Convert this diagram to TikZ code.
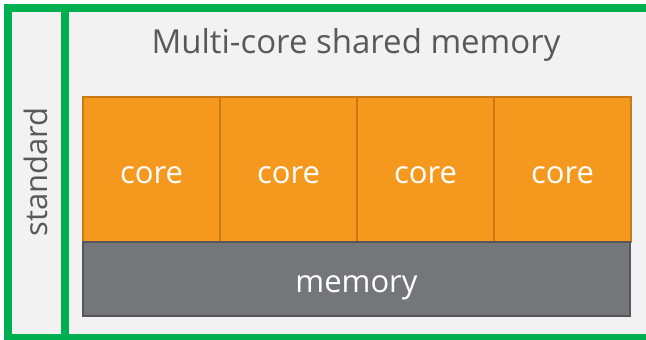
\documentclass[tikz,border=0pt]{standalone}
\usepackage{fontspec}
\setmainfont{Open Sans}
\usetikzlibrary{positioning}

\definecolor{framegreen}{HTML}{00B050}
\definecolor{panelgrey}{HTML}{F2F2F2}
\definecolor{labelgrey}{HTML}{595959}
\definecolor{corefill}{HTML}{F4991E}
\definecolor{coreedge}{HTML}{C97A14}
\definecolor{memfill}{HTML}{75767A}
\definecolor{memedge}{HTML}{56575A}

\tikzset{
  corebox/.style={draw=coreedge, fill=corefill, line width=2pt, outer sep=0pt,
    minimum width=137pt, minimum height=145pt, text=white,
    text height=27pt, text depth=0pt,
    font=\fontsize{31}{34}\selectfont},
  memorybox/.style={draw=memedge, fill=memfill, line width=2pt, outer sep=0pt,
    minimum width=547pt, minimum height=74pt, text=white,
    text height=27pt, text depth=0pt,
    font=\fontsize{31}{34}\selectfont},
  greylabel/.style={text=labelgrey, anchor=base, font=\fontsize{31}{34}\selectfont}
}

\begin{document}
\begin{tikzpicture}[x=1pt, y=-1pt]
    % --- Page and panel ---
    \useasboundingbox (0,0) rectangle (646,340);
    \fill[white] (0,0) rectangle (646,340);
    \fill[panelgrey] (8,8) rectangle (660,338);

    % --- Titles ---
    \node[greylabel, font=\fontsize{33}{36}\selectfont] (title) at (356,53) {Multi-core shared memory};
    \node[greylabel, rotate=90] (std) at (47,172) {standard};

    % --- Cores side by side ---
    \node[corebox, anchor=north west] (core1) at (83,97) {core};
    \node[corebox, right=0pt of core1] (core2) {core};
    \node[corebox, right=0pt of core2] (core3) {core};
    \node[corebox, right=0pt of core3] (core4) {core};

    % --- Shared memory under the cores ---
    \node[memorybox, anchor=north west] (memory) at (core1.south west) {memory};

    % --- Green frame and divider ---
    \draw[framegreen, line width=8pt] (8,8) rectangle (660,338);
    \draw[framegreen, line width=8pt] (65,8) -- (65,338);
\end{tikzpicture}
\end{document}
